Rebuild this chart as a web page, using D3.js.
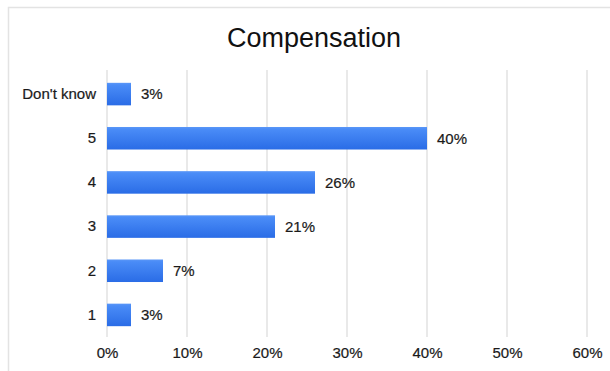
<!DOCTYPE html>
<html>
<head>
<meta charset="utf-8">
<script src="https://cdn.jsdelivr.net/npm/d3@7"></script>
<style>
  html, body { margin: 0; padding: 0; background: #fff; }
  svg { display: block; font-family: "Liberation Sans", Arial, Helvetica, sans-serif; }
</style>
</head>
<body>
<svg id="chart" width="610" height="371"></svg>
<script>
// Survey responses for the "Compensation" question
const categories = ["Don't know", "5", "4", "3", "2", "1"];
const values = [3, 40, 26, 21, 7, 3];
const tickValues = [0, 10, 20, 30, 40, 50, 60];
const title = "Compensation";

const svg = d3.select("#chart");
const W = 610, H = 371;
const plot = { left: 107, right: 587, top: 72, bottom: 337 };
const labelFont = "'Liberation Sans', Arial, sans-serif";

// Card frame (top and left edges visible)
svg.append("path")
  .attr("d", `M8.5,${H} V7.5 H${W}`)
  .attr("fill", "none")
  .attr("stroke", "#e3e3e3")
  .attr("stroke-width", 1.5);

const defs = svg.append("defs");
const grad = defs.append("linearGradient")
  .attr("id", "barFill").attr("x1", 0).attr("y1", 0).attr("x2", 0).attr("y2", 1);
grad.append("stop").attr("offset", "0%").attr("stop-color", "#5b97f7");
grad.append("stop").attr("offset", "10%").attr("stop-color", "#4a8cf7");
grad.append("stop").attr("offset", "100%").attr("stop-color", "#2a6ce6");

const x = d3.scaleLinear().domain([0, 60]).range([plot.left, plot.right]);
const y = d3.scaleBand().domain(categories).range([plot.top, plot.bottom]).paddingInner(0.49).paddingOuter(0.245);

// Title
svg.append("text")
  .attr("x", 314).attr("y", 47)
  .attr("text-anchor", "middle")
  .attr("font-size", 27)
  .attr("fill", "#111")
  .text(title);

// Vertical gridlines
svg.append("g")
  .selectAll("line")
  .data(tickValues)
  .join("line")
  .attr("x1", d => x(d)).attr("x2", d => x(d))
  .attr("y1", plot.top - 2).attr("y2", plot.bottom)
  .attr("stroke", "#e2e2e2")
  .attr("stroke-width", 1.5);

// X axis tick labels
const xAxis = d3.axisBottom(x).tickValues(tickValues).tickFormat(d => d + "%").tickSize(0).tickPadding(0);
const gx = svg.append("g").attr("transform", `translate(0,${plot.bottom})`).call(xAxis);
gx.select(".domain").remove();
gx.selectAll("text").attr("font-size", 15).attr("fill", "#1a1a1a")
  .attr("y", 21).attr("dy", 0)
  .attr("stroke", "#1a1a1a").attr("stroke-width", 0.2)
  .attr("font-family", labelFont);

// Y axis category labels
const yAxis = d3.axisLeft(y).tickSize(0).tickPadding(0);
const gy = svg.append("g").attr("transform", `translate(${plot.left - 11},0)`).call(yAxis);
gy.select(".domain").remove();
gy.selectAll("text").attr("font-size", 15).attr("fill", "#1a1a1a")
  .attr("stroke", "#1a1a1a").attr("stroke-width", 0.2)
  .attr("font-family", labelFont);

// Bars
svg.append("g")
  .selectAll("rect")
  .data(values)
  .join("rect")
  .attr("x", x(0))
  .attr("y", (d, i) => y(categories[i]))
  .attr("width", d => x(d) - x(0))
  .attr("height", y.bandwidth())
  .attr("fill", "url(#barFill)");

// Value labels
svg.append("g")
  .selectAll("text")
  .data(values)
  .join("text")
  .attr("x", d => x(d) + 10)
  .attr("y", (d, i) => y(categories[i]) + y.bandwidth() / 2)
  .attr("dy", "0.35em")
  .attr("font-size", 15)
  .attr("fill", "#1a1a1a")
  .attr("stroke", "#1a1a1a").attr("stroke-width", 0.2)
  .text(d => d + "%");
</script>
</body>
</html>
